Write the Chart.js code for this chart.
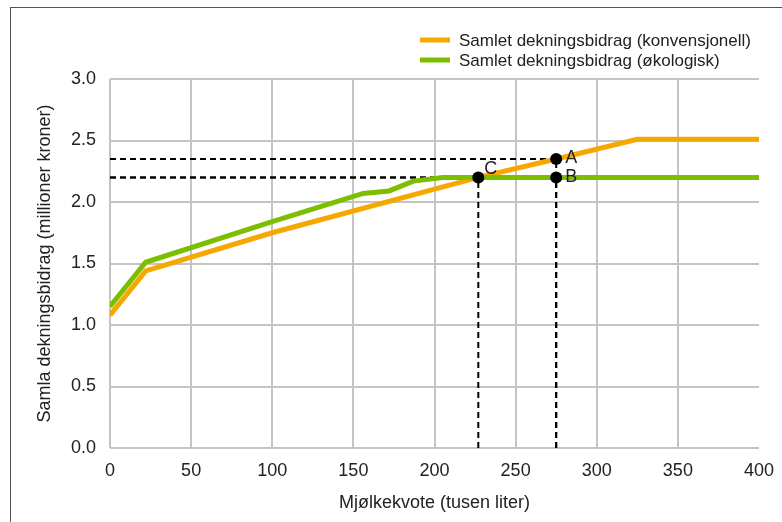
<!DOCTYPE html>
<html>
<head>
<meta charset="utf-8">
<title>Dekningsbidrag</title>
<script src="https://cdn.jsdelivr.net/npm/chart.js@4.4.0/dist/chart.umd.min.js"></script>
<style>
  html, body { margin: 0; padding: 0; background: #fff; }
  #wrap { position: relative; width: 782px; height: 522px; overflow: hidden; }
  #frame { position: absolute; left: 10px; top: 7px; width: 800px; height: 540px; border: 1px solid #555; }
  #wrap canvas { position: absolute; left: 0; top: 0; }
</style>
</head>
<body>
<div id="wrap">
  <div id="frame"></div>
  <canvas id="dbChart" width="782" height="522"></canvas>
</div>
<script>
// kvote i tusen liter, dekningsbidrag i millioner kroner
var kvoteKonv = [0, 22, 100, 227, 275, 325, 400];
var dbKonv = [1.08, 1.44, 1.75, 2.2, 2.35, 2.51, 2.51];

var kvoteOko = [0, 22, 100, 156, 172, 187, 205, 400];
var dbOko = [1.15, 1.51, 1.84, 2.07, 2.09, 2.17, 2.2, 2.2];

var punktNavn = ['A', 'B', 'C'];
var punktKvote = [275, 275, 227];
var punktDb = [2.35, 2.2, 2.2];

var serieNavn = ['Samlet dekningsbidrag (konvensjonell)', 'Samlet dekningsbidrag (økologisk)'];
var serieFarge = ['#F7A800', '#7DBE00'];

var FONT = '"Liberation Sans", Arial, sans-serif';
var TEXT = '#222';

function toPoints(xs, ys) {
    return xs.map(function(x, i) { return { x: x, y: ys[i] }; });
}

// stiplede hjelpelinjer fra aksene inn til punktene
var guideSets = [];
punktNavn.forEach(function(n, i) {
    guideSets.push({
        data: [{ x: 0, y: punktDb[i] }, { x: punktKvote[i], y: punktDb[i] }],
        showLine: true, borderColor: '#000', borderWidth: 2, borderDash: [6, 4],
        pointRadius: 0, order: 3
    });
    guideSets.push({
        data: [{ x: punktKvote[i], y: 0 }, { x: punktKvote[i], y: punktDb[i] }],
        showLine: true, borderColor: '#000', borderWidth: 2, borderDash: [6, 4],
        pointRadius: 0, order: 3
    });
});

var legendPlugin = {
    id: 'listLegend',
    afterDraw: function(chart) {
        var ctx = chart.ctx;
        var area = chart.chartArea;
        var x0 = area.right - 339;
        var y0 = area.top - 39;
        ctx.save();
        ctx.font = '17px ' + FONT;
        ctx.textBaseline = 'middle';
        ctx.fillStyle = TEXT;
        chart.data.datasets.filter(function(d) { return d.label; }).forEach(function(d, i) {
            var y = y0 + i * 20;
            ctx.strokeStyle = d.borderColor;
            ctx.lineWidth = 5;
            ctx.beginPath();
            ctx.moveTo(x0, y);
            ctx.lineTo(x0 + 30, y);
            ctx.stroke();
            ctx.fillText(d.label, x0 + 39, y + 1);
        });
        ctx.restore();
    }
};

var pointLabelPlugin = {
    id: 'pointLabels',
    afterDatasetsDraw: function(chart) {
        var ctx = chart.ctx;
        chart.data.datasets.forEach(function(d, di) {
            if (!d.pointLabels) return;
            var meta = chart.getDatasetMeta(di);
            ctx.save();
            ctx.font = '18px ' + FONT;
            ctx.fillStyle = TEXT;
            ctx.textBaseline = 'middle';
            meta.data.forEach(function(el, i) {
                var off = d.labelOffsets[i];
                ctx.fillText(d.pointLabels[i], el.x + off[0], el.y + off[1]);
            });
            ctx.restore();
        });
    }
};

var ctx = document.getElementById('dbChart').getContext('2d');
var chart = new Chart(ctx, {
    type: 'scatter',
    data: {
        datasets: [
            {
                label: serieNavn[0],
                data: toPoints(kvoteKonv, dbKonv),
                showLine: true,
                borderColor: serieFarge[0],
                backgroundColor: serieFarge[0],
                borderWidth: 5,
                pointRadius: 0,
                order: 2
            },
            {
                label: serieNavn[1],
                data: toPoints(kvoteOko, dbOko),
                showLine: true,
                borderColor: serieFarge[1],
                backgroundColor: serieFarge[1],
                borderWidth: 5,
                pointRadius: 0,
                order: 1
            },
            {
                data: toPoints(punktKvote, punktDb),
                pointRadius: 6,
                pointBackgroundColor: '#000',
                pointBorderWidth: 0,
                pointLabels: punktNavn,
                labelOffsets: [[9, -1], [9, 0], [6, -8]],
                order: 0
            }
        ].concat(guideSets)
    },
    options: {
        responsive: false,
        animation: false,
        layout: { padding: { top: 79, right: 23, bottom: 0, left: 0 } },
        plugins: {
            legend: { display: false },
            tooltip: { enabled: false }
        },
        scales: {
            x: {
                type: 'linear',
                min: 0,
                max: 400,
                afterFit: function(scale) {
                    scale.height = 74;
                    scale.paddingLeft = 0;
                    scale.paddingRight = 0;
                },
                ticks: { stepSize: 50, padding: 12, color: TEXT, font: { family: FONT, size: 18 } },
                grid: {
                    drawTicks: false,
                    lineWidth: 2,
                    color: function(c) { return c.tick && c.tick.value === 400 ? 'rgba(0,0,0,0)' : '#c4c4c4'; }
                },
                border: { display: false },
                title: {
                    display: true,
                    text: 'Mjølkekvote (tusen liter)',
                    color: TEXT,
                    font: { family: FONT, size: 18 },
                    padding: { top: 0, bottom: 8 }
                }
            },
            y: {
                min: 0,
                max: 3,
                afterFit: function(scale) {
                    scale.width = 110;
                    scale.paddingTop = 0;
                    scale.paddingBottom = 0;
                },
                ticks: {
                    stepSize: 0.5,
                    padding: 14,
                    color: TEXT,
                    font: { family: FONT, size: 18 },
                    callback: function(v) { return v.toFixed(1); }
                },
                grid: { drawTicks: false, lineWidth: 2, color: '#c4c4c4' },
                border: { display: false },
                title: {
                    display: true,
                    text: 'Samla dekningsbidrag (millioner kroner)',
                    color: TEXT,
                    font: { family: FONT, size: 18 },
                    padding: { top: 34, bottom: 0 }
                }
            }
        }
    },
    plugins: [legendPlugin, pointLabelPlugin]
});
</script>
</body>
</html>
